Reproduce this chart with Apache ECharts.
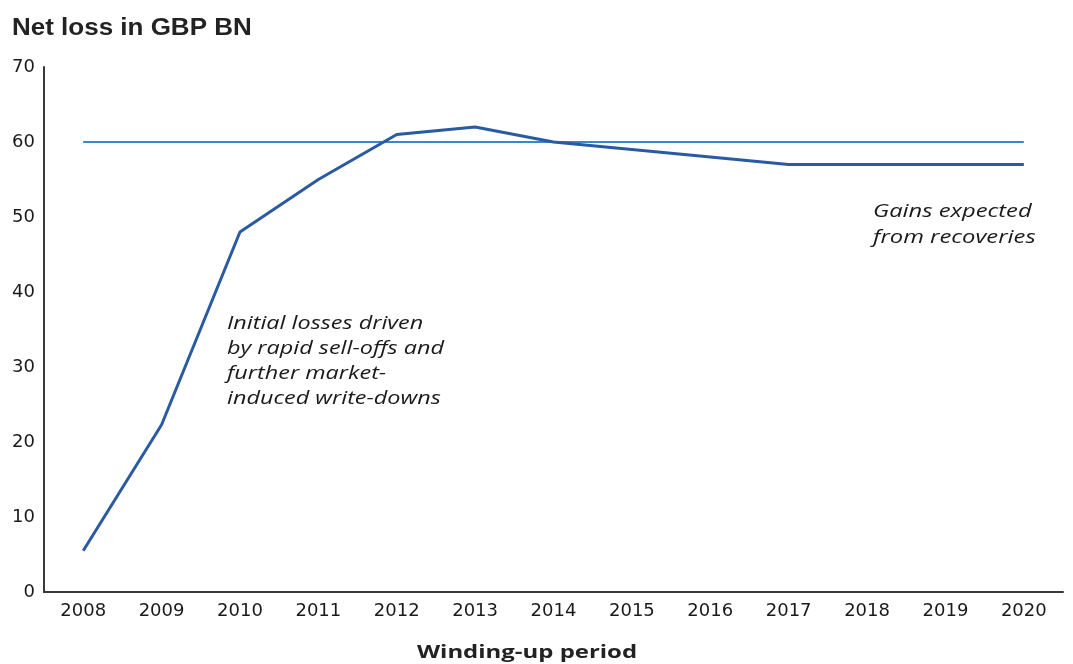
<!DOCTYPE html>
<html>
<head>
<meta charset="utf-8">
<script src="https://cdn.jsdelivr.net/npm/echarts@6/dist/echarts.min.js"></script>
<style>
  html, body { margin: 0; padding: 0; background: #ffffff; }
  #chart { width: 1073px; height: 664px; }
</style>
</head>
<body>
<div id="chart"></div>
<script>
// Winding-up period (years)
const years = ['2008', '2009', '2010', '2011', '2012', '2013', '2014',
               '2015', '2016', '2017', '2018', '2019', '2020'];
// Cumulative net loss, GBP bn
const netLoss = [5.5, 22.3, 48, 55, 61, 62, 60, 59, 58, 57, 57, 57, 57];
// Reference level, GBP bn
const referenceLevel = [60, 60, 60, 60, 60, 60, 60, 60, 60, 60, 60, 60, 60];
const yTicks = [0, 10, 20, 30, 40, 50, 60, 70];

const chart = echarts.init(document.getElementById('chart'), null, { renderer: 'canvas' });

const tickFont = '"DejaVu Sans", "Open Sans", sans-serif';
const noteFont = 'italic 18px "Open Sans", "Noto Sans", sans-serif';

chart.setOption({
  backgroundColor: '#ffffff',
  animation: false,
  grid: { left: 44, right: 10, top: 67, bottom: 72, containLabel: false },
  xAxis: {
    type: 'category',
    data: years,
    boundaryGap: true,
    axisLine: { lineStyle: { color: '#3a3a3a', width: 2 } },
    axisTick: { show: false },
    axisLabel: { fontFamily: tickFont, fontSize: 18, color: '#1a1a1a', margin: 10 },
    splitLine: { show: false }
  },
  yAxis: {
    type: 'value',
    min: yTicks[0],
    max: yTicks[yTicks.length - 1],
    interval: 10,
    axisLine: { show: true, lineStyle: { color: '#3a3a3a', width: 2 } },
    axisTick: { show: false },
    axisLabel: { fontFamily: tickFont, fontSize: 18, color: '#1a1a1a', margin: 9 },
    splitLine: { show: false }
  },
  series: [
    {
      name: 'Reference level',
      type: 'line',
      data: referenceLevel,
      symbol: 'none',
      lineStyle: { color: '#3a86d0', width: 2 },
      z: 2
    },
    {
      name: 'Net loss',
      type: 'line',
      data: netLoss,
      symbol: 'none',
      lineStyle: { color: '#2a5aa2', width: 3 },
      z: 3
    }
  ],
  graphic: [
    {
      // chart heading
      type: 'text',
      x: 12, y: 29,
      scaleX: 1.13,
      style: {
        text: 'Net loss in GBP BN',
        font: 'bold 23px "Liberation Sans", Arial, sans-serif',
        fill: '#222',
        align: 'left',
        verticalAlign: 'middle'
      }
    },
    {
      // x-axis title
      type: 'text',
      x: 527, y: 653,
      scaleX: 1.33,
      style: {
        text: 'Winding-up period',
        font: 'bold 18px "Open Sans", "Noto Sans", sans-serif',
        fill: '#222',
        align: 'center',
        verticalAlign: 'middle'
      }
    },
    {
      type: 'text',
      x: 227, y: 311,
      scaleX: 1.3,
      style: {
        text: 'Initial losses driven\nby rapid sell-offs and\nfurther market-\ninduced write-downs',
        font: noteFont,
        lineHeight: 25,
        fill: '#1a1a1a',
        align: 'left',
        verticalAlign: 'top'
      }
    },
    {
      type: 'text',
      x: 873, y: 199,
      scaleX: 1.32,
      style: {
        text: 'Gains expected\nfrom recoveries',
        font: noteFont,
        lineHeight: 26,
        fill: '#1a1a1a',
        align: 'left',
        verticalAlign: 'top'
      }
    }
  ]
});
</script>
</body>
</html>
